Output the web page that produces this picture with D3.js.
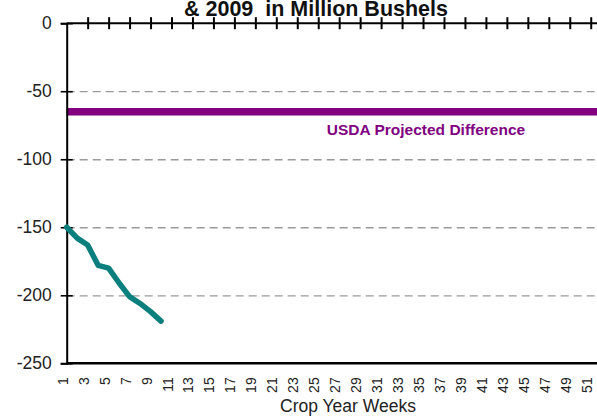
<!DOCTYPE html>
<html>
<head>
<meta charset="utf-8">
<script src="https://cdn.jsdelivr.net/npm/d3@7"></script>
<style>
  body { margin: 0; background: #fff; }
  svg { display: block; font-family: Arial, "Liberation Sans", sans-serif; }
</style>
</head>
<body>
<svg width="597" height="416"></svg>
<script>
// chart data
const weeks = d3.range(1, 53);                 // crop year weeks 1..52
const labelWeeks = d3.range(1, 52, 2);         // 1, 3, 5 ... 51
const yTicks = [0, -50, -100, -150, -200, -250];
const gridTicks = [-50, -100, -150, -200];
const diffWeeks = [1, 2, 3, 4, 5, 6, 7, 8, 9, 10];
const diffValues = [-150, -158, -163, -178, -180, -191, -201, -206, -212, -219];
const usdaProjected = -65;
const titleText = '& 2009  in Million Bushels';

const svg = d3.select('svg');
const margin = { left: 66.7, right: 601.2, top: 23.2, bottom: 363.3 };

const x = d3.scaleLinear().domain([1, 52]).range([margin.left, margin.right]);
const y = d3.scaleLinear().domain([-250, 0]).range([margin.bottom, margin.top]);

//title (first line is above the picture)
svg.append('text')
    .attr('x', 316).attr('y', 16)
    .attr('text-anchor', 'middle')
    .style('font-weight', 'bold').style('font-size', '21.5px')
    .style('white-space', 'pre').attr('fill', '#111')
    .text(titleText);

//dashed grid lines
const grid = svg.append('g').attr('transform', `translate(${margin.left},0)`)
    .call(d3.axisLeft(y).tickValues(gridTicks).tickSize(-(597 - margin.left)).tickFormat(''));
grid.select('.domain').remove();
grid.selectAll('.tick line')
    .attr('stroke', '#9a9a9a').attr('stroke-width', 1.3).attr('stroke-dasharray', '8,5');

//usda projected difference
svg.append('line')
    .attr('x1', margin.left).attr('x2', 597)
    .attr('y1', y(usdaProjected)).attr('y2', y(usdaProjected))
    .attr('stroke', '#800080').attr('stroke-width', 7.5);

svg.append('text')
    .attr('x', 426).attr('y', 135)
    .attr('text-anchor', 'middle')
    .style('font-weight', 'bold').style('font-size', '15.5px')
    .attr('fill', '#800080')
    .text('USDA Projected Difference');

//y axis
const yAxis = svg.append('g').attr('transform', `translate(${margin.left},0)`)
    .call(d3.axisLeft(y).tickValues(yTicks).tickSize(6).tickPadding(9).tickFormat(d => String(d)));
yAxis.select('.domain').attr('stroke', '#000').attr('stroke-width', 2);
yAxis.selectAll('.tick line').attr('x1', -6).attr('x2', 6).attr('stroke', '#000').attr('stroke-width', 1.6);
yAxis.selectAll('.tick text')
    .style('font-size', '17.5px').style('font-family', 'Arial, "Liberation Sans", sans-serif')
    .attr('fill', '#222');

//zero line with week ticks
const zeroAxis = svg.append('g').attr('transform', `translate(0,${y(0)})`)
    .call(d3.axisTop(x).tickValues(labelWeeks.slice(1)).tickSize(6).tickFormat(''));
zeroAxis.select('.domain').attr('d', `M${margin.left},0H597`).attr('stroke', '#000').attr('stroke-width', 2);
zeroAxis.selectAll('.tick line').attr('y1', -6).attr('y2', 6).attr('stroke', '#000').attr('stroke-width', 2);

//bottom axis with week labels
const xAxis = svg.append('g').attr('transform', `translate(0,${y(-250)})`)
    .call(d3.axisBottom(x).tickValues(labelWeeks).tickSize(0).tickFormat(d => String(d)));
xAxis.select('.domain').attr('d', `M${margin.left},0H597`).attr('stroke', '#000').attr('stroke-width', 2.5);
xAxis.selectAll('.tick text')
    .style('font-size', '14px').style('font-family', 'Arial, "Liberation Sans", sans-serif')
    .attr('fill', '#222')
    .attr('text-anchor', 'end')
    .attr('transform', 'translate(0.5,14) rotate(-90)')
    .attr('x', 0).attr('y', 0).attr('dy', '0');

svg.append('text')
    .attr('x', 348).attr('y', 412)
    .attr('text-anchor', 'middle')
    .style('font-size', '17.5px').attr('fill', '#222')
    .text('Crop Year Weeks');

//cumulative difference line
const line = d3.line()
    .x((d, i) => x(diffWeeks[i]))
    .y(d => y(d));

svg.append('path')
    .datum(diffValues)
    .attr('d', line)
    .attr('fill', 'none')
    .attr('stroke', '#0b7f7d')
    .attr('stroke-width', 5.5)
    .attr('stroke-linejoin', 'round')
    .attr('stroke-linecap', 'round');
</script>
</body>
</html>
